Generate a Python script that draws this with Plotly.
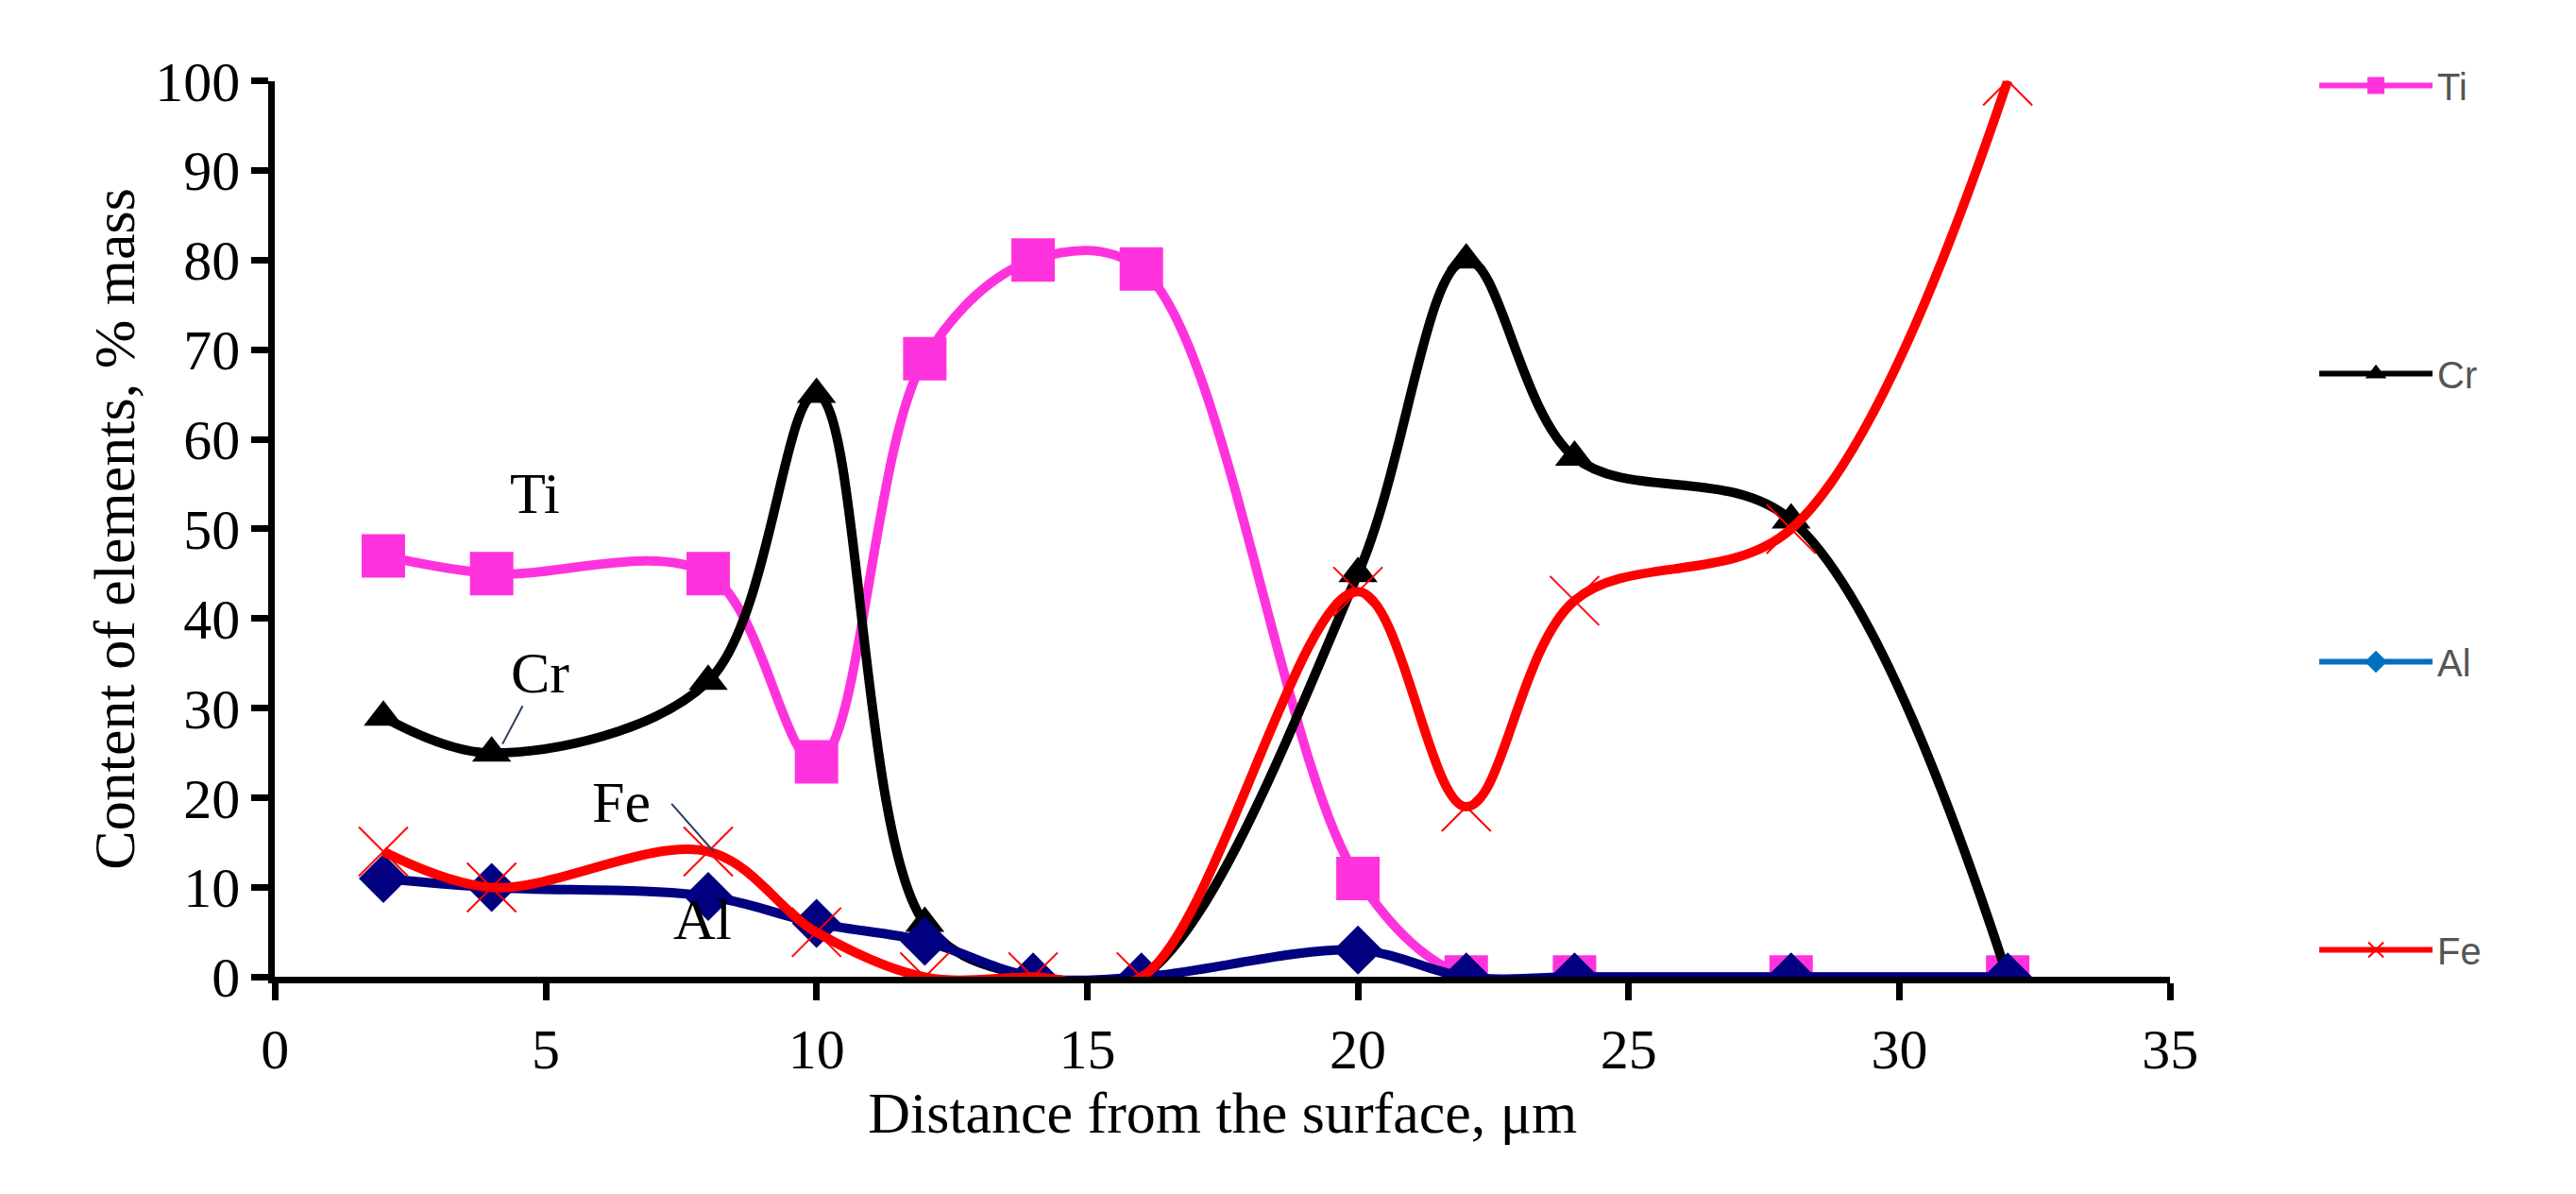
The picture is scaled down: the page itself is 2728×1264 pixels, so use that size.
import plotly.graph_objects as go

x = [2, 4, 8, 10, 12, 14, 16, 20, 22, 24, 28, 32]
ti = [47, 45, 45, 24, 69, 80, 79, 11, 0, 0, 0, 0]
cr = [29, 25, 33, 65, 6, 0, 0, 45, 80, 58, 51, 0]
al = [11, 10, 9, 6, 4, 0, 0, 3, 0, 0, 0, 0]
fe = [14, 10, 14, 5, 0, 0, 0, 43, 19, 42, 50, 100]
names = ["Ti", "Cr", "Al", "Fe"]
line_colors = ["#FF33DD", "#000000", "#000080", "#FF0000"]
legend_colors = ["#FF33DD", "#000000", "#0070C0", "#FF0000"]
symbols = ["square", "triangle-up", "diamond", "x-thin-open"]
sizes = [46, 36, 40, 52]
xticks = [0, 5, 10, 15, 20, 25, 30, 35]
yticks = list(range(0, 101, 10))

fig = go.Figure()
for nm, ys, c, s, sz in zip(names, [ti, cr, al, fe], line_colors, symbols, sizes):
    fig.add_trace(go.Scatter(x=x, y=ys, mode="lines+markers", showlegend=False,
                             line=dict(color=c, width=10, shape="spline", smoothing=1),
                             marker=dict(symbol=s, size=sz, color=c,
                                         line=dict(width=2, color=c) if s.startswith("x") else dict(width=0))))
for i, (nm, c, s) in enumerate(zip(names, legend_colors, symbols)):
    fig.add_trace(go.Scatter(x=[None], y=[None], mode="lines+markers", name=nm, legendgroup=nm,
                             legendrank=i,
                             line=dict(color=c, width=6),
                             marker=dict(symbol=s, size=22, color=c, line=dict(width=2, color=c))))

font = "Liberation Serif"
ax = dict(showline=True, linewidth=7, linecolor="black", ticks="outside", ticklen=18, tickwidth=7,
          tickcolor="black", showgrid=False, zeroline=False,
          tickfont=dict(family=font, size=60, color="black"))
fig.update_layout(
    width=2728, height=1264, paper_bgcolor="white", plot_bgcolor="white",
    margin=dict(l=0, r=0, t=0, b=0),
    xaxis=dict(ax, domain=[0.10, 0.848], range=[0, 35], tickvals=xticks,
               title=dict(text="Distance from the surface, μm", font=dict(family=font, size=62, color="black"), standoff=0)),
    yaxis=dict(ax, domain=[0.17, 0.962], range=[0, 100], tickvals=yticks,
               title=dict(text="Content of elements, % mass", font=dict(family=font, size=62, color="black"), standoff=4)),
    legend=dict(x=0.905, y=0.985, xanchor="left", yanchor="top", tracegroupgap=250,
                font=dict(family="Liberation Sans", size=40, color="#555555"), itemwidth=120),
    font=dict(family=font),
)
af = dict(family=font, size=62, color="black")
fig.add_annotation(x=4.8, y=54, text="Ti", showarrow=False, font=af)
fig.add_annotation(x=4.2, y=26, ax=4.9, ay=34, axref="x", ayref="y", text="Cr", showarrow=True,
                   arrowhead=0, arrowwidth=2, font=af, standoff=0)
fig.add_annotation(x=6.4, y=19.5, text="Fe", showarrow=False, font=af)
fig.add_annotation(x=8.1, y=14, ax=7.3, ay=19.5, axref="x", ayref="y", text="", showarrow=True,
                   arrowhead=0, arrowwidth=2)
fig.add_annotation(x=7.9, y=6.5, text="Al", showarrow=False, font=af)
fig.write_html("out.html")
